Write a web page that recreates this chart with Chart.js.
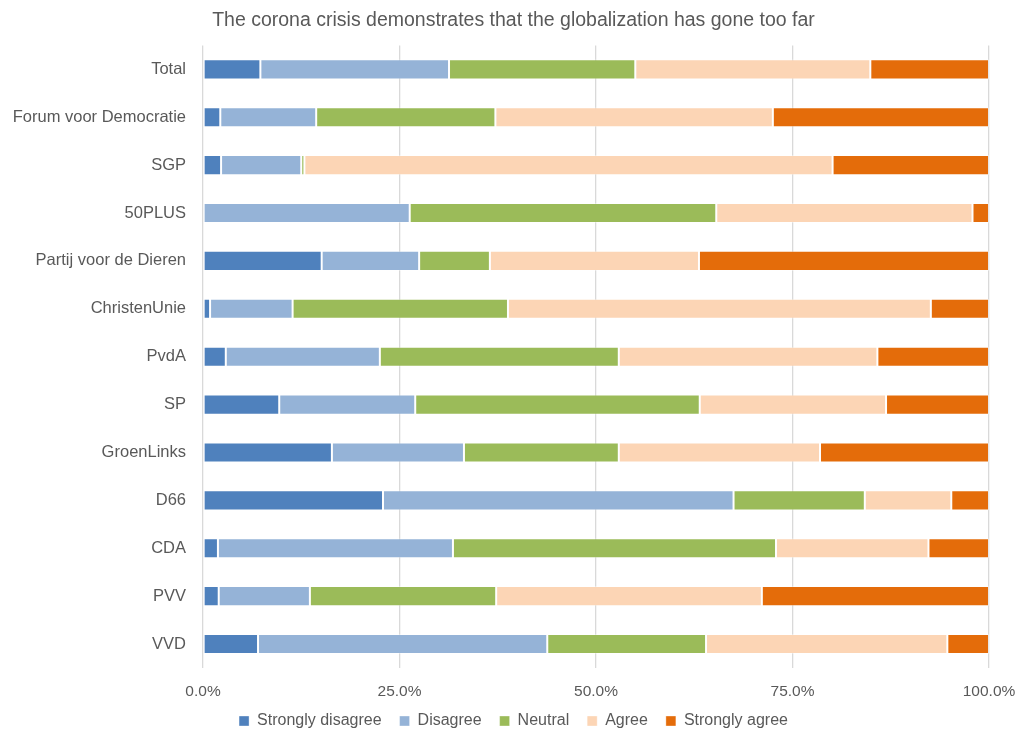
<!DOCTYPE html>
<html>
<head>
<meta charset="utf-8">
<script src="https://cdn.jsdelivr.net/npm/chart.js@4/dist/chart.umd.min.js"></script>
<style>
  html, body { margin: 0; padding: 0; background: #fff; }
  #wrap { width: 1017px; height: 731px; }
</style>
</head>
<body>
<div id="wrap"><canvas id="myChart"></canvas></div>
<script>
const parties = ['Total', 'Forum voor Democratie', 'SGP', '50PLUS', 'Partij voor de Dieren',
    'ChristenUnie', 'PvdA', 'SP', 'GroenLinks', 'D66', 'CDA', 'PVV', 'VVD'];

// shares in %, same order as parties
const stronglyDisagree = [7.3, 2.2, 2.3, 0, 15.1, 0.9, 2.9, 9.7, 16.4, 22.9, 1.9, 2.0, 7.0];
const disagree         = [24.0, 12.2, 10.2, 26.3, 12.4, 10.5, 19.6, 17.3, 16.8, 44.6, 29.9, 11.6, 36.8];
const neutral          = [23.7, 22.8, 0.4, 39.0, 9.0, 27.4, 30.4, 36.2, 19.7, 16.7, 41.1, 23.7, 20.2];
const agree            = [29.9, 35.3, 67.2, 32.6, 26.6, 53.8, 32.9, 23.7, 25.6, 11.0, 19.4, 33.8, 30.7];
const stronglyAgree    = [15.1, 27.5, 19.9, 2.1, 36.9, 7.4, 14.2, 13.1, 21.5, 4.8, 7.7, 28.9, 5.3];

const xTicks = [0, 25, 50, 75, 100];

const fontFamily = "'Liberation Sans', Arial, sans-serif";
const textColor = '#595959';

function makeSet(label, data, color) {
    return {
        label: label,
        data: data,
        backgroundColor: color,
        borderColor: 'rgba(255,255,255,0.35)',
        borderWidth: 1,
        borderSkipped: false,
        barPercentage: 0.42,
        categoryPercentage: 1.0
    };
}

// pull the legend up a little (its padding also sets the gaps between items)
const nudgeLegend = {
    id: 'nudgeLegend',
    afterLayout: function (chart) {
        chart.legend.top -= 6;
        chart.legend.bottom -= 6;
    }
};

let ctx = document.getElementById('myChart').getContext('2d');
let chart = new Chart(ctx, {
    type: 'bar',
    data: {
        labels: parties,
        datasets: [
            makeSet('Strongly disagree', stronglyDisagree, '#4F81BD'),
            makeSet('Disagree', disagree, '#95B3D7'),
            makeSet('Neutral', neutral, '#9BBB59'),
            makeSet('Agree', agree, '#FCD5B5'),
            makeSet('Strongly agree', stronglyAgree, '#E46C0A')
        ]
    },
    plugins: [nudgeLegend],
    options: {
        indexAxis: 'y',
        responsive: true,
        maintainAspectRatio: false,
        animation: false,
        layout: { padding: { top: 7, left: 10, right: 0, bottom: -14 } },
        plugins: {
            title: {
                display: true,
                text: 'The corona crisis demonstrates that the globalization has gone too far',
                color: textColor,
                font: { family: fontFamily, size: 19.5, weight: 'normal' },
                padding: { top: 2, bottom: 13 }
            },
            legend: {
                position: 'bottom',
                labels: {
                    color: textColor,
                    font: { family: fontFamily, size: 16 },
                    boxWidth: 10,
                    boxHeight: 10,
                    padding: 18
                }
            },
            tooltip: { enabled: false }
        },
        scales: {
            x: {
                stacked: true,
                min: 0,
                max: 100,
                afterBuildTicks: function (scale) {
                    scale.ticks = xTicks.map(v => ({ value: v }));
                },
                afterFit: function (scale) {
                    scale.paddingRight = 28;
                    scale.height = 33;
                },
                ticks: {
                    color: textColor,
                    font: { family: fontFamily, size: 15.5 },
                    padding: 14,
                    callback: function (v) { return v.toFixed(1) + '%'; }
                },
                grid: { color: '#d9d9d9', lineWidth: 1.3, drawTicks: false },
                border: { display: false }
            },
            y: {
                stacked: true,
                afterFit: function (scale) { scale.width = 193; },
                ticks: {
                    color: textColor,
                    font: { family: fontFamily, size: 16.5 },
                    padding: 9
                },
                grid: { display: false },
                border: { display: false }
            }
        }
    }
});
</script>
</body>
</html>
